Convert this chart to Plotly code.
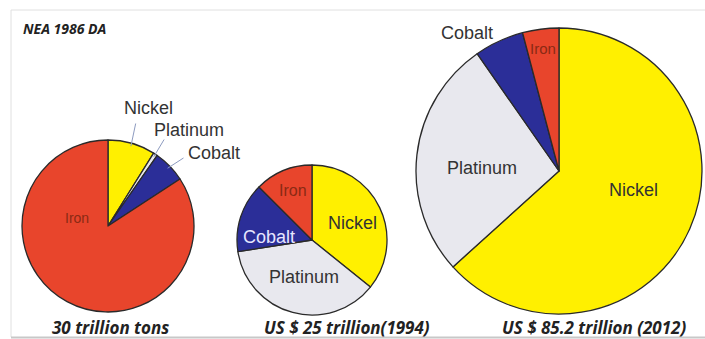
import math
import plotly.graph_objects as go

W, H = 705, 339

# ---- data ----
metals = ["Nickel", "Platinum", "Cobalt", "Iron"]
colors = {"Nickel": "#FFF000", "Platinum": "#E8E8EE", "Cobalt": "#2B2E98", "Iron": "#E8452C"}
tons_1986 = [8.9, 0.8, 6.1, 84.2]          # share of 30 trillion tons
value_1994 = [35.8, 36.7, 15.0, 12.5]      # share of US$ 25 trillion
value_2012 = [63.3, 27.0, 5.6, 4.1]        # share of US$ 85.2 trillion
captions = ["30 trillion tons", "US $ 25 trillion(1994)", "US $ 85.2 trillion (2012)"]
title_text = "NEA 1986 DA"

# ---- layout (pixel geometry) ----
pies = [
    dict(values=tons_1986, cx=108, cy=226, r=86),
    dict(values=value_1994, cx=312, cy=240, r=75),
    dict(values=value_2012, cx=559, cy=171, r=143),
]

def px(x):
    return x / W

def py(y):
    return 1 - y / H

fig = go.Figure()
for p in pies:
    fig.add_trace(go.Pie(
        labels=metals, values=p["values"], sort=False, direction="clockwise", rotation=0,
        marker=dict(colors=[colors[m] for m in metals], line=dict(color="#2a2a2a", width=1.3)),
        textinfo="none", hoverinfo="label+percent", showlegend=False,
        domain=dict(x=[px(p["cx"] - p["r"]), px(p["cx"] + p["r"])],
                    y=[py(p["cy"] + p["r"]), py(p["cy"] - p["r"])]),
    ))

annotations = []
# slice label placements: (pie index, metal, x, y, color, size, leader offset)
label_spots = [
    (0, "Iron", 77, 218, "#8a2a14", 14, None),
    (0, "Nickel", 148, 108, "#333333", 18, (-12, 14)),
    (0, "Platinum", 189, 130, "#333333", 18, (-24, 8)),
    (0, "Cobalt", 214, 153, "#333333", 18, (-29, 4)),
    (1, "Iron", 293, 190, "#8a2a14", 16, None),
    (1, "Nickel", 353, 223, "#333333", 18, None),
    (1, "Cobalt", 269, 237, "#E6E6FF", 18, None),
    (1, "Platinum", 304, 277, "#333333", 18, None),
    (2, "Cobalt", 467, 33, "#333333", 18, None),
    (2, "Iron", 543, 48, "#8a2a14", 15, None),
    (2, "Platinum", 482, 168, "#333333", 18, None),
    (2, "Nickel", 633, 190, "#333333", 18, None),
]
for idx, metal, lx, ly, col, size, leader in label_spots:
    annotations.append(dict(x=px(lx), y=py(ly), xref="paper", yref="paper", text=metal,
                            xanchor="center", yanchor="middle",
                            showarrow=False, font=dict(family="Liberation Sans, Arial", size=size, color=col)))
    if leader:
        p = pies[idx]
        vals = p["values"]
        tot = sum(vals)
        i = metals.index(metal)
        start = sum(vals[:i]) / tot * 360
        mid = math.radians(start + vals[i] / tot * 180)
        ex = p["cx"] + (p["r"] - 3) * math.sin(mid)
        ey = p["cy"] - (p["r"] - 3) * math.cos(mid)
        sx = lx + leader[0]
        sy = ly + leader[1]
        annotations.append(dict(x=px(ex), y=py(ey), xref="paper", yref="paper", text="",
                                showarrow=True, arrowhead=0, arrowwidth=1, arrowcolor="#8d9bc0",
                                ax=sx - ex, ay=sy - ey))

# captions
cap_x = [110, 347, 594]
for cx, c in zip(cap_x, captions):
    annotations.append(dict(x=px(cx), y=py(327), xref="paper", yref="paper", text=f"<b><i>{c}</i></b>",
                            xanchor="center", yanchor="middle",
                            showarrow=False, font=dict(family="Open Sans", size=17, color="#222222")))
annotations.append(dict(x=px(21), y=py(28), xref="paper", yref="paper", xanchor="left", yanchor="middle",
                        text=f"<b><i>{title_text}</i></b>", showarrow=False,
                        font=dict(family="Open Sans", size=14, color="#222222")))

border = dict(color="#e0e0e0", width=1)
fig.update_layout(
    width=W, height=H, margin=dict(l=0, r=0, t=0, b=0),
    paper_bgcolor="white", plot_bgcolor="white",
    annotations=annotations,
    shapes=[
        dict(type="line", xref="paper", yref="paper", x0=px(11), x1=1, y0=py(10), y1=py(10), line=border, layer="below"),
        dict(type="line", xref="paper", yref="paper", x0=px(11), x1=px(11), y0=py(10), y1=py(337), line=border, layer="below"),
        dict(type="line", xref="paper", yref="paper", x0=px(11), x1=1, y0=py(337.5), y1=py(337.5),
             line=dict(color="#c8c8c8", width=2), layer="above"),
    ],
)
fig.write_html("out.html", config={"displayModeBar": False},
               post_script="document.body.style.margin='0';document.body.style.overflow='hidden';")
